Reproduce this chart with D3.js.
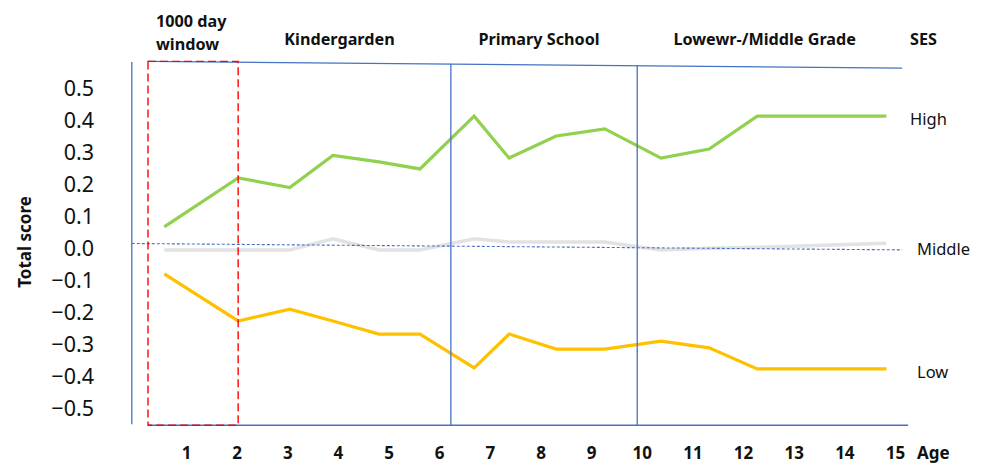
<!DOCTYPE html>
<html>
<head>
<meta charset="utf-8">
<title>Total score by SES and age</title>
<style>
  body { margin: 0; padding: 0; background: #fff; }
  text { font-family: "Noto Sans", "Open Sans", sans-serif; fill: #111; }
</style>
</head>
<body>
<div id="chart"></div>
<script src="https://d3js.org/d3.v7.min.js"></script>
<script>
// data (x in years of age)
var ages   = [0.57, 2.03, 3.05, 3.90, 4.81, 5.62, 6.69, 7.38, 8.31, 9.27, 10.38, 11.33, 12.28, 14.83];
var high   = [0.067, 0.22, 0.19, 0.29, 0.27, 0.248, 0.413, 0.282, 0.351, 0.373, 0.282, 0.31, 0.413, 0.413];
var middle = [-0.005, -0.005, -0.005, 0.03, -0.005, -0.005, 0.03, 0.02, 0.02, 0.02, -0.005, 0.0, 0.003, 0.016];
var low    = [-0.08, -0.227, -0.19, -0.227, -0.268, -0.268, -0.374, -0.268, -0.315, -0.315, -0.29, -0.311, -0.377, -0.377];

var seriesNames = ["High", "Middle", "Low"];
var ageTicks = [1, 2, 3, 4, 5, 6, 7, 8, 9, 10, 11, 12, 13, 14, 15];
var scoreTicks = [-0.5, -0.4, -0.3, -0.2, -0.1, 0, 0.1, 0.2, 0.3, 0.4, 0.5];
var phaseNames = ["Kindergarden", "Primary School", "Lowewr-/Middle Grade"];
var phaseBounds = [2.03, 6.23, 9.91, 15.14];   // edges between school phases (age)
var windowRange = [0.25, 2.03];               // 1000 day window (age)

var width = 986, height = 465;

var svg = d3.select("#chart").append("svg")
    .attr("width", width)
    .attr("height", height);

var x = d3.scaleLinear().domain([1, 15]).range([186, 895]);
var y = d3.scaleLinear().domain([-0.5, 0.5]).range([408.3, 88.3]);

var colors = { High: "#92D050", Middle: "#E2E2E2", Low: "#FFC000" };
var values = { High: high, Middle: middle, Low: low };

var line = d3.line()
    .x(function(d) { return x(d[0]); })
    .y(function(d) { return y(d[1]); });

// series lines
seriesNames.forEach(function(name) {
  svg.append("path")
    .datum(ages.map(function(a, i) { return [a, values[name][i]]; }))
    .attr("fill", "none")
    .attr("stroke", colors[name])
    .attr("stroke-width", name == "Middle" ? 3.5 : 3.2)
    .attr("stroke-linejoin", "miter")
    .attr("d", line);
});

// y axis labels
var yAxis = svg.append("g")
    .attr("transform", "translate(94,0)")
    .call(d3.axisLeft(y).tickValues(scoreTicks).tickFormat(d3.format(".1f")).tickSize(0).tickPadding(0));
yAxis.select(".domain").remove();
yAxis.selectAll("text")
    .style("font-family", "'Noto Sans', sans-serif")
    .style("font-size", "21.5px")
    .attr("fill", "#111");

// x axis labels
var xAxis = svg.append("g")
    .attr("transform", "translate(0,447)")
    .call(d3.axisBottom(x).tickValues(ageTicks).tickFormat(d3.format("d")).tickSize(0).tickPadding(0));
xAxis.select(".domain").remove();
xAxis.selectAll("text")
    .style("font-family", "'Noto Sans', sans-serif")
    .style("font-size", "17px")
    .style("font-weight", "bold")
    .attr("fill", "#111");

svg.append("text")
    .attr("x", 917).attr("y", 459)
    .style("font-size", "17px").style("font-weight", "bold")
    .text("Age");

svg.append("text")
    .attr("transform", "translate(31,242) rotate(-90)")
    .attr("text-anchor", "middle")
    .style("font-size", "17px").style("font-weight", "bold")
    .text("Total score");

// frame and phase dividers (hand drawn lines in the original)
var blue = "#4472C4";
var frameLines = [
  [[-0.07, 0.582], [-0.07, -0.55]],
  [[windowRange[0], 0.584], [phaseBounds[3], 0.563]],
  [[windowRange[0], -0.553], [15.26, -0.553]],
  [[phaseBounds[1], 0.577], [phaseBounds[1], -0.553]],
  [[phaseBounds[2], 0.572], [phaseBounds[2], -0.553]]
];
frameLines.forEach(function(l) {
  svg.append("line")
    .attr("x1", x(l[0][0])).attr("y1", y(l[0][1]))
    .attr("x2", x(l[1][0])).attr("y2", y(l[1][1]))
    .attr("stroke", blue)
    .attr("stroke-width", 1.3);
});

// zero reference line
svg.append("line")
  .attr("x1", x(-0.07)).attr("y1", y(0.015))
  .attr("x2", x(phaseBounds[3])).attr("y2", y(-0.005))
  .attr("stroke", blue)
  .attr("stroke-width", 1.1)
  .attr("stroke-dasharray", "3,2");

// 1000 day window box
svg.append("rect")
  .attr("x", x(windowRange[0]))
  .attr("y", y(0.584))
  .attr("width", x(windowRange[1]) - x(windowRange[0]))
  .attr("height", y(-0.553) - y(0.584))
  .attr("fill", "none")
  .attr("stroke", "#FF0000")
  .attr("stroke-width", 1.4)
  .attr("stroke-dasharray", "8,4");

// header labels
var header = svg.append("g").style("font-size", "16.2px").style("font-weight", "bold");
header.append("text").attr("x", 156).attr("y", 27).text("1000 day");
header.append("text").attr("x", 156).attr("y", 50).text("window");
phaseNames.forEach(function(p, i) {
  header.append("text")
    .attr("x", (x(phaseBounds[i]) + x(phaseBounds[i + 1])) / 2 - 5)
    .attr("y", 45)
    .attr("text-anchor", "middle")
    .text(p);
});
header.append("text").attr("x", 910).attr("y", 45).text("SES");

// series names at the right
var lastIdx = ages.length - 1;
seriesNames.forEach(function(name) {
  svg.append("text")
    .attr("x", name == "High" ? 910 : 917)
    .attr("y", y(values[name][lastIdx]) + (name == "Middle" ? 12 : 9))
    .style("font-size", "16.5px")
    .text(name);
});
</script>
</body>
</html>
